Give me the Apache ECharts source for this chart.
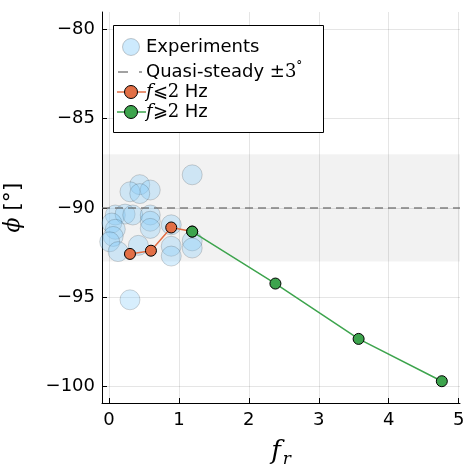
<!DOCTYPE html>
<html>
<head>
<meta charset="utf-8">
<script src="https://cdn.jsdelivr.net/npm/echarts@6/dist/echarts.min.js"></script>
<style>html,body{margin:0;padding:0;background:#fff}#c{width:463px;height:467px}</style>
</head>
<body>
<div id="c"></div>
<script>
// ---- data ----
var experiments = [
  [0.30, -95.15], [1.19, -88.15],
  [0.44, -88.7], [0.30, -89.1], [0.59, -89.0], [0.44, -89.2],
  [0.09, -90.4], [0.23, -90.35], [0.34, -90.4], [0.59, -90.4],
  [0.04, -90.85], [0.09, -91.2], [0.06, -91.6], [0.01, -91.9], [0.13, -92.45],
  [0.59, -90.75], [0.59, -91.15],
  [0.42, -92.1],
  [0.89, -90.95], [0.89, -92.15], [0.89, -92.7],
  [1.19, -91.85], [1.19, -92.25]
];
var lowFreqX = [0.30, 0.60, 0.89, 1.19];
var lowFreqY = [-92.58, -92.40, -91.10, -91.33];
var highFreqX = [1.19, 2.38, 3.57, 4.76];
var highFreqY = [-91.33, -94.24, -97.34, -99.71];
var quasiSteady = -90;
var bandHalfWidth = 3;
var xTicks = [0, 1, 2, 3, 4, 5];
var yTicks = [-100, -95, -90, -85, -80];

function pairs(xs, ys) { return xs.map(function (x, i) { return [x, ys[i]]; }); }

var chart = echarts.init(document.getElementById('c'), null, { renderer: 'canvas' });
var sans = 'DejaVu Sans';
var serif = 'DejaVu Serif';
var orange = '#e26f46', green = '#3da44d';
var expFill = 'rgba(135,206,250,0.42)', expStroke = 'rgba(0,0,0,0.2)';

var option = {
  animation: false,
  backgroundColor: '#fff',
  grid: { left: 102, right: 3, top: 12, bottom: 64, containLabel: false, outerBoundsMode: 'none' },
  xAxis: {
    type: 'value', min: -0.1, max: 5.02,
    axisLine: { show: true, onZero: false, lineStyle: { color: '#000', width: 1 } },
    axisTick: { show: true, inside: true, length: 5, customValues: xTicks, lineStyle: { color: '#000' } },
    axisLabel: { customValues: xTicks, fontFamily: sans, fontSize: 18, color: '#000', margin: 8 },
    splitLine: { show: true, lineStyle: { color: 'rgba(0,0,0,0.1)', width: 1 } },
    name: '{f|f}{r|r}', nameLocation: 'middle', nameGap: 34,
    nameTextStyle: { rich: {
      f: { fontFamily: serif, fontStyle: 'italic', fontSize: 26, color: '#000' },
      r: { fontFamily: serif, fontStyle: 'italic', fontSize: 17, color: '#000', padding: [14, 0, 0, 2] }
    } }
  },
  yAxis: {
    type: 'value', min: -100.93, max: -79.03,
    axisLine: { show: true, onZero: false, lineStyle: { color: '#000', width: 1 } },
    axisTick: { show: true, inside: true, length: 5, customValues: yTicks, lineStyle: { color: '#000' } },
    axisLabel: { customValues: yTicks, fontFamily: sans, fontSize: 18, color: '#000', margin: 7,
      formatter: function (v) { return String(v).replace('-', '\u2212'); } },
    splitLine: { show: true, lineStyle: { color: 'rgba(0,0,0,0.1)', width: 1 } },
    name: '{p|\u03d5}  {b|[\u00b0]}', nameLocation: 'middle', nameGap: 78, nameRotate: 90,
    nameTextStyle: { rich: {
      p: { fontFamily: serif, fontStyle: 'italic', fontSize: 22, color: '#000' },
      b: { fontFamily: sans, fontSize: 22, color: '#000' }
    } }
  },
  series: [
    {
      type: 'line', data: [], silent: true,
      markArea: { silent: true, itemStyle: { color: 'rgba(0,0,0,0.05)' },
        data: [[{ yAxis: quasiSteady - bandHalfWidth }, { yAxis: quasiSteady + bandHalfWidth }]] }
    },
    {
      name: 'Experiments', type: 'scatter', data: experiments, symbol: 'circle', symbolSize: 20,
      itemStyle: { color: expFill, borderColor: expStroke, borderWidth: 1 }, z: 2
    },
    {
      type: 'line', data: [], silent: true, z: 3,
      markLine: { silent: true, symbol: ['none', 'none'], label: { show: false },
        lineStyle: { color: 'rgba(100,100,100,0.8)', width: 1.5, type: [8, 5] },
        data: [{ yAxis: quasiSteady }] }
    },
    {
      name: 'low', type: 'line', data: pairs(lowFreqX, lowFreqY), symbol: 'circle', symbolSize: 11,
      lineStyle: { color: orange, width: 1.5 }, itemStyle: { color: orange, borderColor: '#000', borderWidth: 1 }, z: 4
    },
    {
      name: 'high', type: 'line', data: pairs(highFreqX, highFreqY), symbol: 'circle', symbolSize: 11,
      lineStyle: { color: green, width: 1.5 }, itemStyle: { color: green, borderColor: '#000', borderWidth: 1 }, z: 5
    }
  ],
  graphic: [
    { type: 'rect', z: 100, shape: { x: 113.5, y: 25.5, width: 210, height: 107 },
      style: { fill: '#fff', stroke: '#000', lineWidth: 1 } },
    { type: 'circle', z: 101, shape: { cx: 131, cy: 47, r: 8.5 }, style: { fill: expFill, stroke: expStroke } },
    { type: 'text', z: 101, x: 146, y: 47, style: { text: 'Experiments', font: '18px "DejaVu Sans"', fill: '#000', verticalAlign: 'middle' } },
    { type: 'line', z: 101, shape: { x1: 118, y1: 72, x2: 128, y2: 72 }, style: { stroke: 'rgba(100,100,100,0.8)', lineWidth: 1.5 } },
    { type: 'line', z: 101, shape: { x1: 139, y1: 72, x2: 142, y2: 72 }, style: { stroke: 'rgba(100,100,100,0.8)', lineWidth: 1.5 } },
    { type: 'text', z: 101, x: 146, y: 72, style: { text: 'Quasi-steady {m|\u00b13}{d|\u00b0}', font: '18px "DejaVu Sans"', fill: '#000', verticalAlign: 'middle',
      rich: { m: { fontFamily: serif, fontSize: 18 }, d: { fontFamily: serif, fontSize: 12, padding: [0, 0, 10, 0] } } } },
    { type: 'line', z: 101, shape: { x1: 117, y1: 92, x2: 146, y2: 92 }, style: { stroke: orange, lineWidth: 1.5 } },
    { type: 'circle', z: 102, shape: { cx: 131, cy: 92, r: 6.5 }, style: { fill: orange, stroke: '#000', lineWidth: 1 } },
    { type: 'text', z: 101, x: 146, y: 92, style: { text: '{i|f}{m|\u2a7d2} Hz', font: '18px "DejaVu Sans"', fill: '#000', verticalAlign: 'middle',
      rich: { i: { fontFamily: serif, fontStyle: 'italic', fontSize: 18 }, m: { fontFamily: serif, fontSize: 18 } } } },
    { type: 'line', z: 101, shape: { x1: 117, y1: 112, x2: 146, y2: 112 }, style: { stroke: green, lineWidth: 1.5 } },
    { type: 'circle', z: 102, shape: { cx: 131, cy: 112, r: 6.5 }, style: { fill: green, stroke: '#000', lineWidth: 1 } },
    { type: 'text', z: 101, x: 146, y: 112, style: { text: '{i|f}{m|\u2a7e2} Hz', font: '18px "DejaVu Sans"', fill: '#000', verticalAlign: 'middle',
      rich: { i: { fontFamily: serif, fontStyle: 'italic', fontSize: 18 }, m: { fontFamily: serif, fontSize: 18 } } } }
  ]
};
chart.setOption(option);
</script>
</body>
</html>
